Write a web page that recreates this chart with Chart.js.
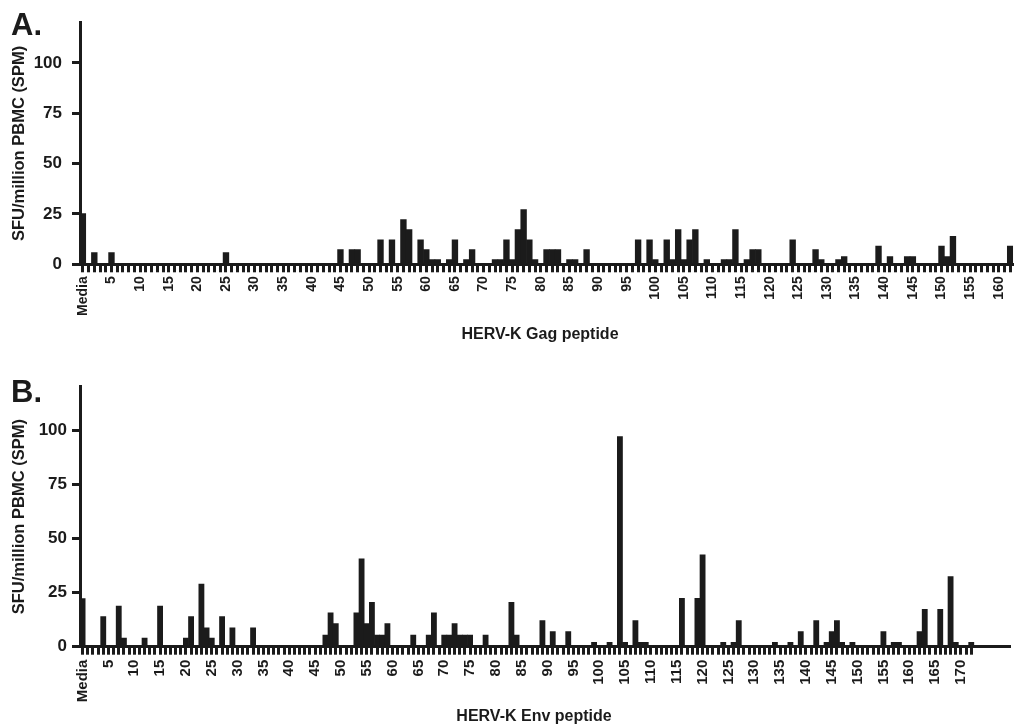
<!DOCTYPE html>
<html>
<head>
<meta charset="utf-8">
<title>HERV-K Gag and Env peptide ELISpot</title>
<script src="https://cdn.jsdelivr.net/npm/chart.js@4.4.1/dist/chart.umd.min.js"></script>
<style>
  html, body { margin: 0; padding: 0; background: #fff; }
  #wrap { position: relative; width: 1031px; height: 728px; }
  canvas { display: block; }
</style>
</head>
<body>
<div id="wrap">
  <canvas id="gagChart" width="1031" height="364"></canvas>
  <canvas id="envChart" width="1031" height="364"></canvas>
</div>
<script>
// --- 1. Data ---
// index 0 = Media, then peptide 1, 2, 3 ...
const gagValues = [
  25.2,
  0, 5.8, 0, 0, 5.8, 0, 0, 0, 0, 0,
  0, 0, 0, 0, 0, 0, 0, 0, 0, 0,
  0, 0, 0, 0, 5.8, 0, 0, 0, 0, 0,
  0, 0, 0, 0, 0, 0, 0, 0, 0, 0,
  0, 0, 0, 0, 7.3, 0, 7.3, 7.3, 0, 0,
  0, 12.2, 0, 12.2, 0, 22.2, 17.2, 0, 12.2, 7.3,
  2.3, 2.3, 0, 2.3, 12.2, 0, 2.3, 7.3, 0, 0,
  0, 2.3, 2.3, 12.2, 2.3, 17.2, 27.2, 12.2, 2.3, 0,
  7.3, 7.3, 7.3, 0, 2.3, 2.3, 0, 7.3, 0, 0,
  0, 0, 0, 0, 0, 0, 12.2, 0, 12.2, 2.3,
  0, 12.2, 2.3, 17.2, 2.3, 12.2, 17.2, 0, 2.3, 0,
  0, 2.3, 2.3, 17.2, 0, 2.3, 7.3, 7.3, 0, 0,
  0, 0, 0, 12.2, 0, 0, 0, 7.3, 2.3, 0,
  0, 2.3, 3.8, 0, 0, 0, 0, 0, 9, 0,
  3.8, 0, 0, 3.8, 3.8, 0, 0, 0, 0, 9,
  3.8, 13.9, 0, 0, 0, 0, 0, 0, 0, 0,
  0, 9
];

const envValues = [
  22.2,
  0, 0, 0, 13.9, 0, 0, 18.7, 4, 0, 0,
  0, 4, 0, 0, 18.7, 0, 0, 0, 0, 4,
  13.9, 0, 28.9, 8.7, 4, 0, 13.9, 0, 8.7, 0,
  0, 0, 8.7, 0, 0, 0, 0, 0, 0, 0,
  0, 0, 0, 0, 0, 0, 5.4, 15.6, 10.7, 0,
  0, 0, 15.6, 40.5, 10.7, 20.5, 5.4, 5.4, 10.7, 0,
  0, 0, 0, 5.4, 0, 0, 5.4, 15.6, 0, 5.4,
  5.4, 10.7, 5.4, 5.4, 5.4, 0, 0, 5.4, 0, 0,
  0, 0, 20.5, 5.4, 0, 0, 0, 0, 12, 0,
  7, 0, 0, 7, 0, 0, 0, 0, 2, 0,
  0, 2, 0, 97, 2, 0, 12, 2, 2, 0,
  0, 0, 0, 0, 0, 22.3, 0, 0, 22.3, 42.4,
  0, 0, 0, 2, 0, 2, 12, 0, 0, 0,
  0, 0, 0, 2, 0, 0, 2, 0, 7, 0,
  0, 12, 0, 2, 7, 12, 2, 0, 2, 0,
  0, 0, 0, 0, 7, 0, 2, 2, 0, 0,
  0, 7, 17.2, 0, 0, 17.2, 0, 32.4, 2, 0,
  0, 2
];

const yTicks = [0, 25, 50, 75, 100];
const yMax = 120;
const gagLastPeptide = 162;
const envLastPeptide = 172;
const envAxisEnd = 179;   // the Env axis line runs on past the last peptide

const makeLabels = (last) => {
    const out = ['Media'];
    for (let i = 1; i <= last; i++) out.push(String(i));
    return out;
};
const gagLabels = makeLabels(gagLastPeptide);
const envLabels = makeLabels(envLastPeptide).concat(Array(envAxisEnd - envLastPeptide).fill(''));

// --- 2. Shared styling ---
const INK = '#1b1b1b';
const FONT = '"Liberation Sans", Arial, Helvetica, sans-serif';

// panel letter + x axis title, placed like the figure
const panelText = {
    id: 'panelText',
    afterDraw(chart, args, opts) {
        const ctx = chart.ctx;
        ctx.save();
        ctx.fillStyle = INK;
        ctx.textBaseline = 'alphabetic';
        ctx.textAlign = 'left';
        ctx.font = `bold 31px ${FONT}`;
        ctx.fillText(opts.letter, 11, opts.letterY);
        ctx.textAlign = 'center';
        ctx.font = `bold 16px ${FONT}`;
        ctx.fillText(opts.xTitle, opts.titleX, opts.titleY);
        ctx.restore();
    }
};

// --- 3. Chart builder ---
const buildChart = (id, cfg) => new Chart(document.getElementById(id), {
    type: 'bar',
    data: {
        labels: cfg.labels,
        datasets: [{
            data: cfg.values,
            backgroundColor: INK,
            borderWidth: 0,
            barPercentage: 1,
            categoryPercentage: 1
        }]
    },
    options: {
        responsive: false,
        animation: false,
        layout: { padding: { top: 22.7, right: cfg.right, left: 0, bottom: 0 } },
        plugins: {
            legend: { display: false },
            tooltip: { enabled: false },
            panelText: cfg.text
        },
        scales: {
            x: {
                grid: {
                    offset: false,
                    drawOnChartArea: false,
                    tickLength: 8,
                    tickWidth: 3,
                    tickColor: (c) => (c.index <= cfg.lastTick ? INK : 'rgba(0,0,0,0)')
                },
                border: { color: INK, width: 3 },
                ticks: {
                    autoSkip: false,
                    minRotation: 90,
                    maxRotation: 90,
                    padding: cfg.xPad,
                    color: INK,
                    font: { family: FONT, size: cfg.xFont, weight: 'bold' },
                    callback: (v, i) => (i % 5 === 0 ? cfg.labels[i] : '')
                },
                afterFit: (s) => { s.height = cfg.xHeight; }
            },
            y: {
                min: 0,
                max: yMax,
                afterBuildTicks: (s) => { s.ticks = yTicks.map(v => ({ value: v })); },
                grid: { drawOnChartArea: false, tickLength: 8, tickWidth: 3, tickColor: INK },
                border: { color: INK, width: 3 },
                ticks: {
                    padding: cfg.yPad,
                    color: INK,
                    font: { family: FONT, size: 17, weight: 'bold' }
                },
                title: {
                    display: true,
                    text: 'SFU/million PBMC (SPM)',
                    color: INK,
                    font: { family: FONT, size: 16.5, weight: 'bold' },
                    padding: { top: 10, bottom: 0 }
                },
                afterFit: (s) => { s.width = 80; }
            }
        }
    },
    plugins: [panelText]
});

document.addEventListener('DOMContentLoaded', () => {
    buildChart('gagChart', {
        labels: gagLabels,
        values: gagValues,
        lastTick: gagLastPeptide,
        right: 5.6,
        xHeight: 99.7,
        xPad: 4,
        xFont: 14,
        yPad: 10,
        text: { letter: 'A.', letterY: 35, xTitle: 'HERV-K Gag peptide', titleX: 540, titleY: 338.5 }
    });

    buildChart('envChart', {
        labels: envLabels,
        values: envValues,
        lastTick: envLastPeptide,
        right: 21,
        xHeight: 81.3,
        xPad: 5,
        xFont: 15,
        yPad: 5,
        text: { letter: 'B.', letterY: 38, xTitle: 'HERV-K Env peptide', titleX: 534, titleY: 357 }
    });
});
</script>
</body>
</html>
